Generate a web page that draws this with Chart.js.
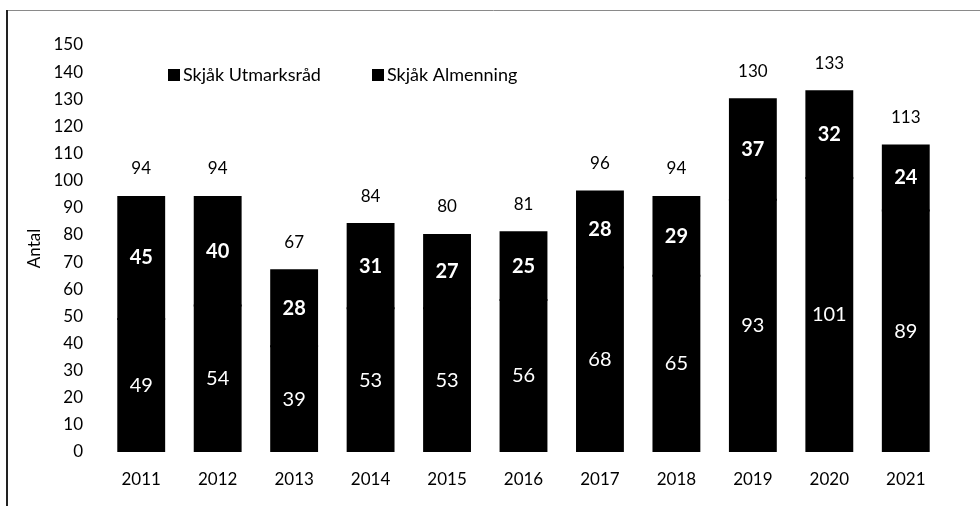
<!DOCTYPE html>
<html>
<head>
<meta charset="utf-8">
<script src="https://cdn.jsdelivr.net/npm/chart.js@4.4.0/dist/chart.umd.min.js"></script>
<style>
  html, body { margin: 0; padding: 0; background: #fff; }
  #wrap { width: 980px; height: 506px; }
</style>
</head>
<body>
<div id="wrap"><canvas id="chart" width="980" height="506"></canvas></div>
<script>
// data
const years = ['2011', '2012', '2013', '2014', '2015', '2016', '2017', '2018', '2019', '2020', '2021'];
const utmarksraad = [49, 54, 39, 53, 53, 56, 68, 65, 93, 101, 89];
const almenning = [45, 40, 28, 31, 27, 25, 28, 29, 37, 32, 24];
const totals = [94, 94, 67, 84, 80, 81, 96, 94, 130, 133, 113];
const seriesNames = ['Skjåk Utmarksråd', 'Skjåk Almenning'];

const FONT = 'Lato, "Open Sans", sans-serif';

// frame lines round the chart
const framePlugin = {
  id: 'frame',
  beforeDraw(chart) {
    const ctx = chart.ctx;
    ctx.save();
    ctx.fillStyle = '#fff';
    ctx.fillRect(0, 0, chart.width, chart.height);
    ctx.strokeStyle = '#8a8a8a';
    ctx.lineWidth = 1;
    ctx.beginPath();
    ctx.moveTo(7, 10.5);
    ctx.lineTo(chart.width, 10.5);
    ctx.stroke();
    ctx.strokeStyle = '#222';
    ctx.lineWidth = 2;
    ctx.beginPath();
    ctx.moveTo(7, 10);
    ctx.lineTo(7, chart.height);
    ctx.stroke();
    ctx.restore();
  }
};

// legend drawn inside the plot
const legendPlugin = {
  id: 'insideLegend',
  afterDraw(chart) {
    const ctx = chart.ctx;
    const xs = [168, 372];
    ctx.save();
    ctx.font = '18px ' + FONT;
    ctx.textBaseline = 'middle';
    chart.data.datasets.forEach((ds, i) => {
      ctx.fillStyle = ds.backgroundColor;
      ctx.fillRect(xs[i], 69, 12, 12);
      ctx.fillStyle = '#000';
      ctx.fillText(ds.label, xs[i] + 15, 75);
    });
    ctx.restore();
  }
};

// value labels in the bars and totals above
const labelPlugin = {
  id: 'valueLabels',
  afterDatasetsDraw(chart) {
    const ctx = chart.ctx;
    ctx.save();
    ctx.textAlign = 'center';
    ctx.textBaseline = 'middle';
    chart.data.datasets.forEach((ds, di) => {
      const meta = chart.getDatasetMeta(di);
      meta.data.forEach((bar, i) => {
        const mid = (bar.y + bar.base) / 2;
        ctx.fillStyle = '#fff';
        ctx.font = (di === 1 ? 'bold ' : '') + '20px ' + FONT;
        ctx.fillText(ds.data[i], bar.x, mid);
      });
    });
    const top = chart.getDatasetMeta(1);
    const y = chart.scales.y;
    ctx.fillStyle = '#000';
    ctx.font = '17px ' + FONT;
    top.data.forEach((bar, i) => {
      ctx.fillText(totals[i], bar.x, y.getPixelForValue(totals[i]) - 28);
    });
    ctx.restore();
  }
};

new Chart(document.getElementById('chart'), {
  type: 'bar',
  data: {
    labels: years,
    datasets: [
      { label: seriesNames[0], data: utmarksraad, backgroundColor: '#000', inflateAmount: 1 },
      { label: seriesNames[1], data: almenning, backgroundColor: '#000', inflateAmount: 1 }
    ]
  },
  options: {
    responsive: false,
    animation: false,
    layout: { padding: { left: 20, right: 36, top: 45, bottom: 14 } },
    datasets: { bar: { categoryPercentage: 1, barPercentage: 0.6 } },
    plugins: { legend: { display: false }, tooltip: { enabled: false } },
    scales: {
      x: {
        stacked: true,
        grid: { display: false, drawTicks: false },
        border: { display: false },
        ticks: { color: '#000', font: { family: FONT, size: 17 }, padding: 17 },
        afterFit(s) { s.height = 40; }
      },
      y: {
        stacked: true,
        min: 0,
        max: 150,
        grid: { display: false, drawTicks: false },
        border: { display: false },
        ticks: { stepSize: 10, color: '#000', font: { family: FONT, size: 17 }, padding: 20 },
        title: { display: true, text: 'Antal', color: '#000', font: { family: FONT, size: 17 }, padding: 4 },
        afterFit(s) { s.width = 83; }
      }
    }
  },
  plugins: [framePlugin, legendPlugin, labelPlugin]
});
</script>
</body>
</html>
